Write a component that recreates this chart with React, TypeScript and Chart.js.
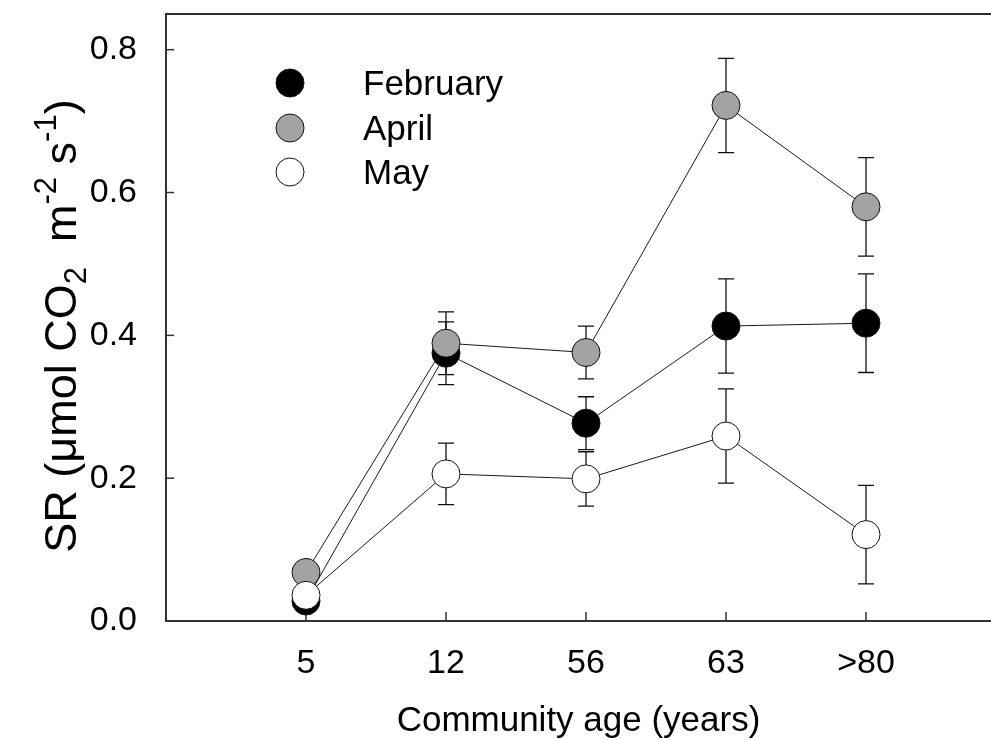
import React, { useEffect, useRef } from 'react';
import { Chart, registerables } from 'chart.js';

Chart.register(...registerables);

// Community age classes (x axis) and their positions on the linear scale
const ageLabels = ['5', '12', '56', '63', '>80'];
const agePositions = [1, 2, 3, 4, 5];

// Soil respiration means and error bars per sampling month
const febMean = [0.028, 0.375, 0.277, 0.413, 0.417];
const febErr = [0.005, 0.044, 0.037, 0.066, 0.069];
const aprMean = [0.068, 0.389, 0.376, 0.722, 0.58];
const aprErr = [0.006, 0.044, 0.037, 0.066, 0.069];
const mayMean = [0.036, 0.206, 0.199, 0.259, 0.121];
const mayErr = [0.006, 0.043, 0.038, 0.066, 0.069];

// Y axis ticks
const yTicks = [0, 0.2, 0.4, 0.6, 0.8];

const FONT = '"Liberation Sans", Arial, Helvetica, sans-serif';
const W = 991;
const H = 740;
const AREA_LEFT = 166;
const AREA_TOP = 14;
const AREA_BOTTOM = 621;
const CAT_STEP = 140;

function noScalePadding(s: any) {
  s.paddingTop = 0;
  s.paddingBottom = 0;
  s.paddingLeft = 0;
  s.paddingRight = 0;
}

export default function App() {
  const ref = useRef<HTMLCanvasElement>(null);

  useEffect(() => {
    const canvas = ref.current;
    if (!canvas) return;

    const series = [
      { label: 'February', mean: febMean, err: febErr, fill: '#000000', order: 2 },
      { label: 'April', mean: aprMean, err: aprErr, fill: '#a3a3a3', order: 1 },
      { label: 'May', mean: mayMean, err: mayErr, fill: '#ffffff', order: 0 },
    ];

    const datasets = series.map((s) => ({
      label: s.label,
      data: s.mean.map((v, i) => ({ x: agePositions[i], y: v })),
      borderColor: '#1a1a1a',
      borderWidth: 1,
      pointRadius: 14,
      pointHoverRadius: 14,
      pointBackgroundColor: s.fill,
      pointBorderColor: '#111111',
      pointBorderWidth: 1,
      fill: false,
      tension: 0,
      order: s.order,
    }));

    // error bars, inward ticks and the top frame line
    const decorations = {
      id: 'decorations',
      beforeDatasetsDraw(chart: any) {
        const { ctx, scales } = chart;
        const xs = scales.x;
        const ys = scales.y;
        const area = chart.chartArea;
        ctx.save();
        // top frame line
        ctx.strokeStyle = '#2a2a2a';
        ctx.lineWidth = 2;
        ctx.beginPath();
        ctx.moveTo(area.left - 1, area.top);
        ctx.lineTo(area.right, area.top);
        ctx.stroke();
        // inward ticks
        ctx.lineWidth = 1.5;
        ctx.strokeStyle = '#333333';
        yTicks.forEach((v) => {
          const y = ys.getPixelForValue(v);
          ctx.beginPath();
          ctx.moveTo(area.left, y);
          ctx.lineTo(area.left + 8, y);
          ctx.stroke();
        });
        agePositions.forEach((v) => {
          const x = xs.getPixelForValue(v);
          ctx.beginPath();
          ctx.moveTo(x, area.bottom);
          ctx.lineTo(x, area.bottom - 9);
          ctx.stroke();
        });
        // error bars
        ctx.strokeStyle = '#111111';
        ctx.lineWidth = 1.3;
        series.forEach((s) => {
          s.mean.forEach((m, i) => {
            const x = xs.getPixelForValue(agePositions[i]);
            const yt = ys.getPixelForValue(m + s.err[i]);
            const yb = ys.getPixelForValue(m - s.err[i]);
            ctx.beginPath();
            ctx.moveTo(x, yt);
            ctx.lineTo(x, yb);
            ctx.moveTo(x - 8, yt);
            ctx.lineTo(x + 8, yt);
            ctx.moveTo(x - 8, yb);
            ctx.lineTo(x + 8, yb);
            ctx.stroke();
          });
        });
        ctx.restore();
      },
      afterDraw(chart: any) {
        const { ctx } = chart;
        const area = chart.chartArea;
        ctx.save();
        // legend
        const legendY = [83, 128, 172];
        series.forEach((s, i) => {
          ctx.beginPath();
          ctx.arc(290, legendY[i], 14, 0, Math.PI * 2);
          ctx.fillStyle = s.fill;
          ctx.fill();
          ctx.lineWidth = 1;
          ctx.strokeStyle = '#111111';
          ctx.stroke();
          ctx.fillStyle = '#000000';
          ctx.font = `35px ${FONT}`;
          ctx.textAlign = 'left';
          ctx.textBaseline = 'alphabetic';
          ctx.fillText(s.label, 363, legendY[i] + 12);
        });

        // x axis title
        ctx.font = `35px ${FONT}`;
        ctx.textAlign = 'center';
        ctx.textBaseline = 'alphabetic';
        ctx.fillStyle = '#000000';
        ctx.fillText('Community age (years)', (area.left + area.right) / 2, 731);

        // y axis title with sub- and superscripts
        const big = 45;
        const small = 31;
        const parts: { t: string; size: number; dy: number }[] = [
          { t: 'SR (', size: big, dy: 0 },
          { t: '\u03bcmol CO', size: big, dy: 0 },
          { t: '2', size: small, dy: 10 },
          { t: '  m', size: big, dy: 0 },
          { t: '-2', size: small, dy: -20 },
          { t: ' s', size: big, dy: 0 },
          { t: '-1', size: small, dy: -20 },
          { t: ')', size: big, dy: 0 },
        ];
        let total = 0;
        const widths = parts.map((p) => {
          ctx.font = `${p.size}px ${FONT}`;
          const w = ctx.measureText(p.t).width;
          total += w;
          return w;
        });
        ctx.translate(76, 326);
        ctx.rotate(-Math.PI / 2);
        ctx.textAlign = 'left';
        let x = -total / 2;
        parts.forEach((p, i) => {
          ctx.font = `${p.size}px ${FONT}`;
          ctx.fillText(p.t, x, p.dy);
          x += widths[i];
        });
        ctx.restore();
      },
    };

    const chart = new Chart(canvas, {
      type: 'line',
      data: { datasets: datasets as any },
      options: {
        responsive: false,
        animation: false,
        events: [],
        layout: { autoPadding: false, padding: { top: AREA_TOP, right: 0, left: 0, bottom: 0 } },
        plugins: {
          legend: { display: false },
          tooltip: { enabled: false },
        },
        scales: {
          x: {
            type: 'linear',
            min: 0,
            max: (W - AREA_LEFT) / CAT_STEP,
            afterBuildTicks: (s: any) => {
              s.ticks = agePositions.map((v) => ({ value: v }));
            },
            afterFit: (s: any) => {
              s.height = H - AREA_BOTTOM;
              noScalePadding(s);
            },
            grid: { display: false },
            border: { display: true, color: '#333333', width: 2 },
            ticks: {
              padding: 14,
              color: '#000000',
              font: { family: FONT, size: 34 },
              maxRotation: 0,
              autoSkip: false,
              callback: (_v: any, i: number) => ageLabels[i],
            },
          },
          y: {
            type: 'linear',
            min: 0,
            max: 0.85,
            afterBuildTicks: (s: any) => {
              s.ticks = yTicks.map((v) => ({ value: v }));
            },
            afterFit: (s: any) => {
              s.width = AREA_LEFT;
              noScalePadding(s);
            },
            grid: { display: false },
            border: { display: true, color: '#333333', width: 2 },
            ticks: {
              padding: 21,
              color: '#000000',
              font: { family: FONT, size: 34 },
              callback: (v: any) => Number(v).toFixed(1),
            },
          },
        },
      },
      plugins: [decorations],
    });

    return () => chart.destroy();
  }, []);

  return (
    <div style={{ position: 'absolute', left: 0, top: 0, width: W, height: H, background: '#ffffff' }}>
      <canvas ref={ref} width={W} height={H} style={{ display: 'block' }} />
    </div>
  );
}
